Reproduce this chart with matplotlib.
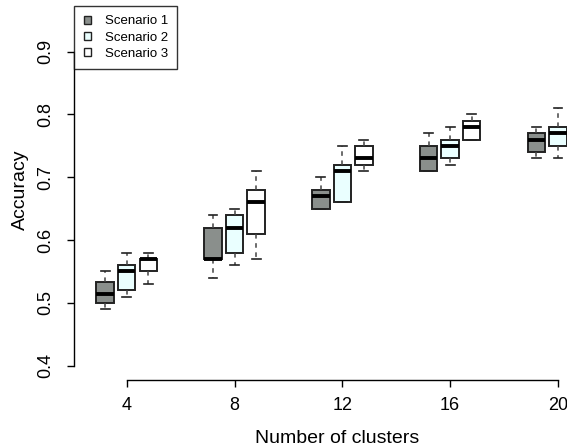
import numpy as np
import matplotlib.pyplot as plt
from matplotlib.patches import Patch

plt.rcParams['font.family'] = ['Liberation Sans', 'DejaVu Sans']

clusters = [4, 8, 12, 16, 20]
scenarios = ['Scenario 1', 'Scenario 2', 'Scenario 3']
colors = ['#8a8f8c', '#eaffff', '#ffffff']

# five-number summaries per scenario, one entry per cluster count
whislo = [[0.49, 0.54, 0.65, 0.71, 0.73],
          [0.51, 0.56, 0.66, 0.72, 0.73],
          [0.53, 0.57, 0.71, 0.76]]
q1 = [[0.50, 0.57, 0.65, 0.71, 0.74],
      [0.52, 0.58, 0.66, 0.73, 0.75],
      [0.55, 0.61, 0.72, 0.76]]
med = [[0.514, 0.57, 0.67, 0.73, 0.76],
       [0.55, 0.62, 0.71, 0.75, 0.77],
       [0.57, 0.66, 0.73, 0.78]]
q3 = [[0.533, 0.62, 0.68, 0.75, 0.77],
      [0.56, 0.64, 0.72, 0.76, 0.78],
      [0.57, 0.68, 0.75, 0.79]]
whishi = [[0.55, 0.64, 0.70, 0.77, 0.78],
          [0.58, 0.65, 0.75, 0.78, 0.81],
          [0.58, 0.71, 0.76, 0.80]]

fig = plt.figure(figsize=(5.67, 4.48), dpi=100)
ax = fig.add_axes([74/567, 68/448, 526/567, 380/448])

offsets = [-0.8, 0.0, 0.8]
for s in range(3):
    stats = []
    for i in range(len(med[s])):
        stats.append(dict(whislo=whislo[s][i], q1=q1[s][i], med=med[s][i],
                          q3=q3[s][i], whishi=whishi[s][i]))
    pos = [clusters[i] + offsets[s] for i in range(len(stats))]
    ax.bxp(stats, positions=pos, widths=0.65, capwidths=0.33,
           patch_artist=True, showfliers=False, manage_ticks=False,
           boxprops=dict(facecolor=colors[s], edgecolor='#222222', linewidth=1.4),
           whiskerprops=dict(color='#444444', linestyle=(0, (3, 3)), linewidth=1.1),
           capprops=dict(color='#222222', linewidth=1.2),
           medianprops=dict(color='black', linewidth=2.8, solid_capstyle='butt'))

ax.set_xlim(2.044, 21.56)
ax.set_ylim(0.3772, 0.9823)

for side in ['top', 'right']:
    ax.spines[side].set_visible(False)
ax.spines['left'].set_bounds(0.4, 0.9)
ax.spines['bottom'].set_bounds(4, 20)
ax.spines['left'].set_linewidth(1.0)
ax.spines['bottom'].set_linewidth(1.0)

ax.set_xticks(clusters)
ax.set_xticklabels([str(c) for c in clusters])
ax.set_yticks([0.4, 0.5, 0.6, 0.7, 0.8, 0.9])
ax.set_yticklabels(['0.4', '0.5', '0.6', '0.7', '0.8', '0.9'], rotation=90, va='center')
ax.tick_params(axis='both', length=5, width=1.0, labelsize=13)
ax.tick_params(axis='y', pad=9)
ax.tick_params(axis='x', pad=7)

ax.set_xlabel('Number of clusters', fontsize=14, labelpad=12)
ax.set_ylabel('Accuracy', fontsize=14, labelpad=6)

handles = [Patch(facecolor=colors[k], edgecolor='#222222', linewidth=1.0) for k in range(3)]
leg = ax.legend(handles, scenarios, loc='upper left',
                bbox_to_anchor=(74/567, 1 - 6/448), bbox_transform=fig.transFigure,
                fontsize=9.5, frameon=True, fancybox=False, borderaxespad=0,
                handlelength=0.6, handleheight=0.6, handletextpad=1.0,
                labelspacing=0.32, borderpad=0.72)
leg.get_frame().set_edgecolor('black')
leg.get_frame().set_linewidth(1.0)

plt.savefig('out.png', dpi=100)
